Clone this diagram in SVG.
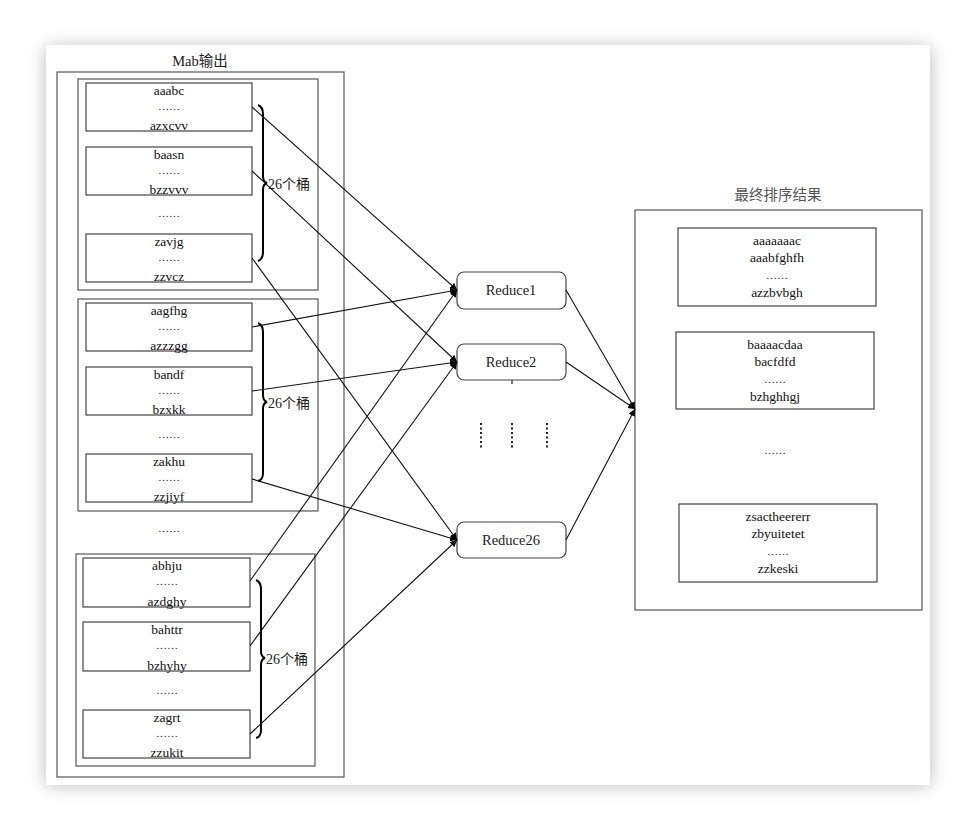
<svg xmlns="http://www.w3.org/2000/svg" width="977" height="830" viewBox="0 0 977 830">
<defs>
<filter id="sh" x="-10%" y="-10%" width="120%" height="120%"><feGaussianBlur stdDeviation="9"/></filter>
<marker id="ar" markerWidth="8" markerHeight="8" refX="7" refY="4" orient="auto" markerUnits="userSpaceOnUse"><path d="M0,0.5 L7,4 L0,7.5 Z" fill="#000"/></marker>
<style>
.t{font-family:"Liberation Serif","Noto Sans CJK SC",serif;font-size:13.5px;fill:#111;text-anchor:middle}
.dt{font-family:"Liberation Serif",serif;font-size:11px;fill:#111;text-anchor:middle}
.h{font-family:"Liberation Serif","Noto Sans CJK SC",serif;font-size:14.5px;fill:#222;text-anchor:middle}
.l{font-family:"Liberation Serif","Noto Sans CJK SC",serif;font-size:14px;fill:#222}
.b{fill:#fff;stroke:#444;stroke-width:1.2}
.g{fill:none;stroke:#555;stroke-width:1.2}
.c{fill:none;stroke:#111;stroke-width:1.1}
.br{fill:none;stroke:#000;stroke-width:2}
.d{stroke:#222;stroke-width:2;stroke-dasharray:2 2.5}
</style>
</defs>
<rect x="0" y="0" width="977" height="830" fill="#fff"/>
<rect x="46" y="47" width="884" height="738" fill="#bbb" filter="url(#sh)"/>
<rect x="46" y="45" width="884" height="740" fill="#fff"/>

<g id="mab">
<text class="h" x="200" y="66">Mab输出</text>
<rect class="g" x="57" y="72" width="287" height="705"/>
</g>

<g id="group1">
<rect class="g" x="78" y="79" width="240" height="211"/>
<g id="b1"><rect class="b" x="86" y="83" width="166" height="48"/><text class="t" x="169" y="95">aaabc</text><text class="dt" x="169" y="110">……</text><text class="t" x="169" y="130">azxcvv</text></g>
<g id="b2"><rect class="b" x="86" y="147" width="166" height="48"/><text class="t" x="169" y="159">baasn</text><text class="dt" x="169" y="174">……</text><text class="t" x="169" y="194">bzzvvv</text></g>
<text class="dt" x="169" y="217">……</text>
<g id="b3"><rect class="b" x="86" y="234" width="166" height="48"/><text class="t" x="169" y="246">zavjg</text><text class="dt" x="169" y="261">……</text><text class="t" x="169" y="281">zzvcz</text></g>
<path class="br" d="M258 105 Q263 107 263 114 L263 176 Q263 182 267 183 Q263 184 263 190 L263 252 Q263 259 258 261"/>
<text class="l" x="268" y="189">26个桶</text>
</g>

<g id="group2">
<rect class="g" x="78" y="299" width="240" height="212"/>
<g id="b4"><rect class="b" x="86" y="303" width="166" height="48"/><text class="t" x="169" y="315">aagfhg</text><text class="dt" x="169" y="330">……</text><text class="t" x="169" y="350">azzzgg</text></g>
<g id="b5"><rect class="b" x="86" y="367" width="166" height="48"/><text class="t" x="169" y="379">bandf</text><text class="dt" x="169" y="394">……</text><text class="t" x="169" y="414">bzxkk</text></g>
<text class="dt" x="169" y="438">……</text>
<g id="b6"><rect class="b" x="86" y="454" width="166" height="48"/><text class="t" x="169" y="466">zakhu</text><text class="dt" x="169" y="481">……</text><text class="t" x="169" y="501">zzjiyf</text></g>
<path class="br" d="M258 323 Q263 325 263 332 L263 395 Q263 401 267 402 Q263 403 263 409 L263 473 Q263 480 258 481"/>
<text class="l" x="268" y="408">26个桶</text>
</g>

<text class="dt" x="169" y="532">……</text>

<g id="group3">
<rect class="g" x="76" y="554" width="239" height="212"/>
<g id="b7"><rect class="b" x="83" y="558" width="167" height="49"/><text class="t" x="167" y="570">abhju</text><text class="dt" x="167" y="585">……</text><text class="t" x="167" y="606">azdghy</text></g>
<g id="b8"><rect class="b" x="83" y="622" width="167" height="49"/><text class="t" x="167" y="634">bahttr</text><text class="dt" x="167" y="649">……</text><text class="t" x="167" y="670">bzhyhy</text></g>
<text class="dt" x="167" y="694">……</text>
<g id="b9"><rect class="b" x="83" y="710" width="167" height="48"/><text class="t" x="167" y="722">zagrt</text><text class="dt" x="167" y="737">……</text><text class="t" x="167" y="757">zzukit</text></g>
<path class="br" d="M256 580 Q261 582 261 589 L261 651 Q261 657 265 658 Q261 659 261 665 L261 730 Q261 737 256 738"/>
<text class="l" x="266" y="664">26个桶</text>
</g>

<g id="reduce1"><rect class="b" x="457" y="272" width="109" height="37" rx="7"/><text class="h" x="511" y="295">Reduce1</text></g>
<g id="reduce2"><rect class="b" x="457" y="344" width="109" height="36" rx="7"/><text class="h" x="511" y="367">Reduce2</text></g>
<g id="reduce26"><rect class="b" x="457" y="522" width="109" height="36" rx="7"/><text class="h" x="511" y="545">Reduce26</text></g>
<g id="vdots">
<line class="d" x1="481" y1="423" x2="481" y2="449"/>
<line class="d" x1="512" y1="423" x2="512" y2="449"/>
<line class="d" x1="547" y1="423" x2="547" y2="449"/>
</g>

<g id="result">
<text class="h" x="778" y="200" style="fill:#555">最终排序结果</text>
<rect class="g" x="635" y="210" width="287" height="400"/>
<g id="r1"><rect class="b" x="678" y="228" width="198" height="78"/><text class="t" x="777" y="245">aaaaaaac</text><text class="t" x="777" y="262">aaabfghfh</text><text class="dt" x="777" y="279">……</text><text class="t" x="777" y="297">azzbvbgh</text></g>
<g id="r2"><rect class="b" x="676" y="332" width="198" height="77"/><text class="t" x="775" y="349">baaaacdaa</text><text class="t" x="775" y="366">bacfdfd</text><text class="dt" x="775" y="383">……</text><text class="t" x="775" y="401">bzhghhgj</text></g>
<text class="dt" x="775" y="454">……</text>
<g id="r3"><rect class="b" x="679" y="504" width="198" height="78"/><text class="t" x="778" y="521">zsactheererr</text><text class="t" x="778" y="538">zbyuitetet</text><text class="dt" x="778" y="555">……</text><text class="t" x="778" y="573">zzkeski</text></g>
</g>

<g id="connectors">
<line class="c" x1="252" y1="107" x2="457" y2="290" marker-end="url(#ar)"/>
<line class="c" x1="252" y1="171" x2="457" y2="362" marker-end="url(#ar)"/>
<line class="c" x1="252" y1="258" x2="457" y2="540" marker-end="url(#ar)"/>
<line class="c" x1="252" y1="327" x2="457" y2="290" marker-end="url(#ar)"/>
<line class="c" x1="252" y1="391" x2="457" y2="362" marker-end="url(#ar)"/>
<line class="c" x1="252" y1="479" x2="457" y2="540" marker-end="url(#ar)"/>
<line class="c" x1="250" y1="581" x2="457" y2="290" marker-end="url(#ar)"/>
<line class="c" x1="250" y1="646" x2="457" y2="362" marker-end="url(#ar)"/>
<line class="c" x1="250" y1="734" x2="457" y2="540" marker-end="url(#ar)"/>
<line class="c" x1="566" y1="290" x2="635" y2="409" marker-end="url(#ar)"/>
<line class="c" x1="566" y1="362" x2="635" y2="409" marker-end="url(#ar)"/>
<line class="c" x1="566" y1="540" x2="635" y2="409" marker-end="url(#ar)"/>
<line class="c" x1="512" y1="380" x2="512" y2="384"/>
</g>
</svg>
